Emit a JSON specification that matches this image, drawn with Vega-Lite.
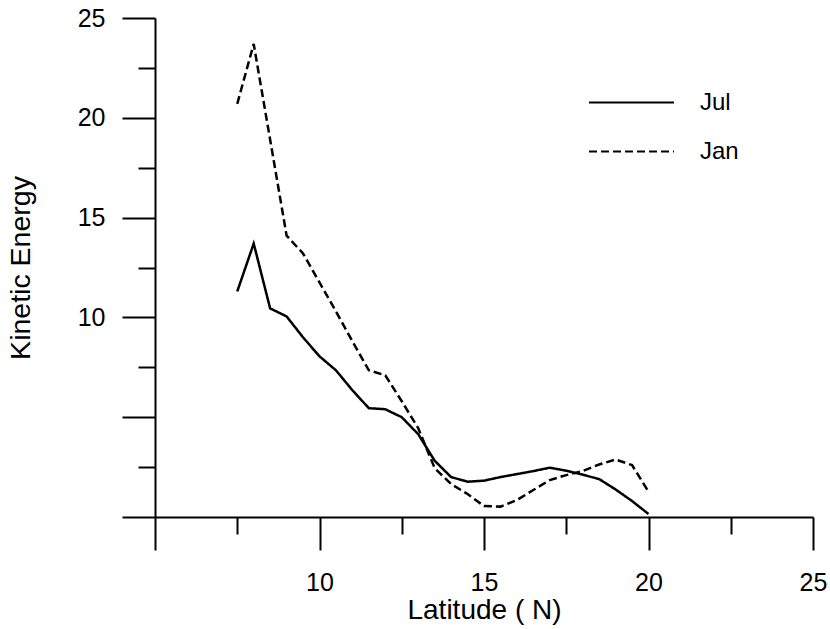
{
  "$schema": "https://vega.github.io/schema/vega-lite/v6.json",
  "width": 658,
  "height": 499,
  "autosize": "none",
  "padding": {"left": 155, "top": 18, "right": 17, "bottom": 112},
  "background": "white",
  "config": {"view": {"stroke": null}, "font": "Liberation Sans"},
  "data": {"values": [
    {"lat": 7.5, "ke": 11.3, "month": "Jul"},
    {"lat": 8.0, "ke": 13.7, "month": "Jul"},
    {"lat": 8.5, "ke": 10.45, "month": "Jul"},
    {"lat": 9.0, "ke": 10.05, "month": "Jul"},
    {"lat": 9.5, "ke": 9.0, "month": "Jul"},
    {"lat": 10.0, "ke": 8.05, "month": "Jul"},
    {"lat": 10.5, "ke": 7.35, "month": "Jul"},
    {"lat": 11.0, "ke": 6.35, "month": "Jul"},
    {"lat": 11.5, "ke": 5.45, "month": "Jul"},
    {"lat": 12.0, "ke": 5.4, "month": "Jul"},
    {"lat": 12.5, "ke": 5.0, "month": "Jul"},
    {"lat": 13.0, "ke": 4.15, "month": "Jul"},
    {"lat": 13.5, "ke": 2.82, "month": "Jul"},
    {"lat": 14.0, "ke": 2.0, "month": "Jul"},
    {"lat": 14.5, "ke": 1.77, "month": "Jul"},
    {"lat": 15.0, "ke": 1.82, "month": "Jul"},
    {"lat": 15.5, "ke": 2.0, "month": "Jul"},
    {"lat": 16.0, "ke": 2.15, "month": "Jul"},
    {"lat": 16.5, "ke": 2.3, "month": "Jul"},
    {"lat": 17.0, "ke": 2.47, "month": "Jul"},
    {"lat": 17.5, "ke": 2.32, "month": "Jul"},
    {"lat": 18.0, "ke": 2.12, "month": "Jul"},
    {"lat": 18.5, "ke": 1.9, "month": "Jul"},
    {"lat": 19.0, "ke": 1.38, "month": "Jul"},
    {"lat": 19.5, "ke": 0.8, "month": "Jul"},
    {"lat": 20.0, "ke": 0.15, "month": "Jul"},
    {"lat": 7.5, "ke": 20.7, "month": "Jan"},
    {"lat": 8.0, "ke": 23.7, "month": "Jan"},
    {"lat": 8.5, "ke": 18.9, "month": "Jan"},
    {"lat": 9.0, "ke": 14.1, "month": "Jan"},
    {"lat": 9.5, "ke": 13.2, "month": "Jan"},
    {"lat": 10.0, "ke": 11.75, "month": "Jan"},
    {"lat": 10.5, "ke": 10.3, "month": "Jan"},
    {"lat": 11.0, "ke": 8.8, "month": "Jan"},
    {"lat": 11.5, "ke": 7.35, "month": "Jan"},
    {"lat": 12.0, "ke": 7.1, "month": "Jan"},
    {"lat": 12.5, "ke": 5.8, "month": "Jan"},
    {"lat": 13.0, "ke": 4.45, "month": "Jan"},
    {"lat": 13.5, "ke": 2.45, "month": "Jan"},
    {"lat": 14.0, "ke": 1.65, "month": "Jan"},
    {"lat": 14.5, "ke": 1.15, "month": "Jan"},
    {"lat": 15.0, "ke": 0.55, "month": "Jan"},
    {"lat": 15.5, "ke": 0.52, "month": "Jan"},
    {"lat": 16.0, "ke": 0.85, "month": "Jan"},
    {"lat": 16.5, "ke": 1.35, "month": "Jan"},
    {"lat": 17.0, "ke": 1.85, "month": "Jan"},
    {"lat": 17.5, "ke": 2.1, "month": "Jan"},
    {"lat": 18.0, "ke": 2.3, "month": "Jan"},
    {"lat": 18.5, "ke": 2.63, "month": "Jan"},
    {"lat": 19.0, "ke": 2.88, "month": "Jan"},
    {"lat": 19.5, "ke": 2.6, "month": "Jan"},
    {"lat": 20.0, "ke": 1.27, "month": "Jan"}
  ]},
  "mark": {"type": "line", "color": "black", "strokeWidth": 2.5},
  "encoding": {
    "x": {
      "field": "lat", "type": "quantitative",
      "scale": {"domain": [5, 25], "nice": false, "zero": false},
      "axis": {
        "values": [5, 7.5, 10, 12.5, 15, 17.5, 20, 22.5, 25],
        "title": "Latitude ( N)",
        "labelExpr": "datum.value % 5 === 0 && datum.value >= 10 ? datum.label : ''",
        "tickSize": {"condition": {"test": "datum.value % 5 !== 0", "value": 17}, "value": 33},
        "tickWidth": 2, "domainWidth": 2, "domainColor": "black", "tickColor": "black",
        "labelFontSize": 25, "labelColor": "black", "labelPadding": 20,
        "titleFontSize": 28, "titleColor": "black", "titleFontWeight": "normal", "titlePadding": 1,
        "grid": false, "labelFlush": false, "labelOverlap": false
      }
    },
    "y": {
      "field": "ke", "type": "quantitative",
      "scale": {"domain": [0, 25], "nice": false},
      "axis": {
        "values": [0, 2.5, 5, 7.5, 10, 12.5, 15, 17.5, 20, 22.5, 25],
        "title": "Kinetic Energy",
        "labelExpr": "datum.value % 5 === 0 && datum.value >= 10 ? datum.label : ''",
        "tickSize": {"condition": {"test": "datum.value % 5 !== 0", "value": 17}, "value": 33},
        "tickWidth": 2, "domainWidth": 2, "domainColor": "black", "tickColor": "black",
        "labelFontSize": 25, "labelColor": "black", "labelPadding": 17,
        "titleFontSize": 28.5, "titleColor": "black", "titleFontWeight": "normal", "titlePadding": 42,
        "grid": false, "labelFlush": false, "labelOverlap": false
      }
    },
    "strokeDash": {
      "field": "month", "type": "nominal",
      "scale": {"domain": ["Jul", "Jan"], "range": [[1, 0], [8, 4]]},
      "legend": {
        "title": null, "orient": "none", "legendX": 433, "legendY": 60,
        "symbolType": "stroke", "symbolSize": 7225, "symbolStrokeWidth": 2, "symbolStrokeColor": "black",
        "labelFontSize": 24, "labelColor": "black", "labelOffset": 25, "rowPadding": 0, "clipHeight": 49, "padding": 0
      }
    }
  }
}
